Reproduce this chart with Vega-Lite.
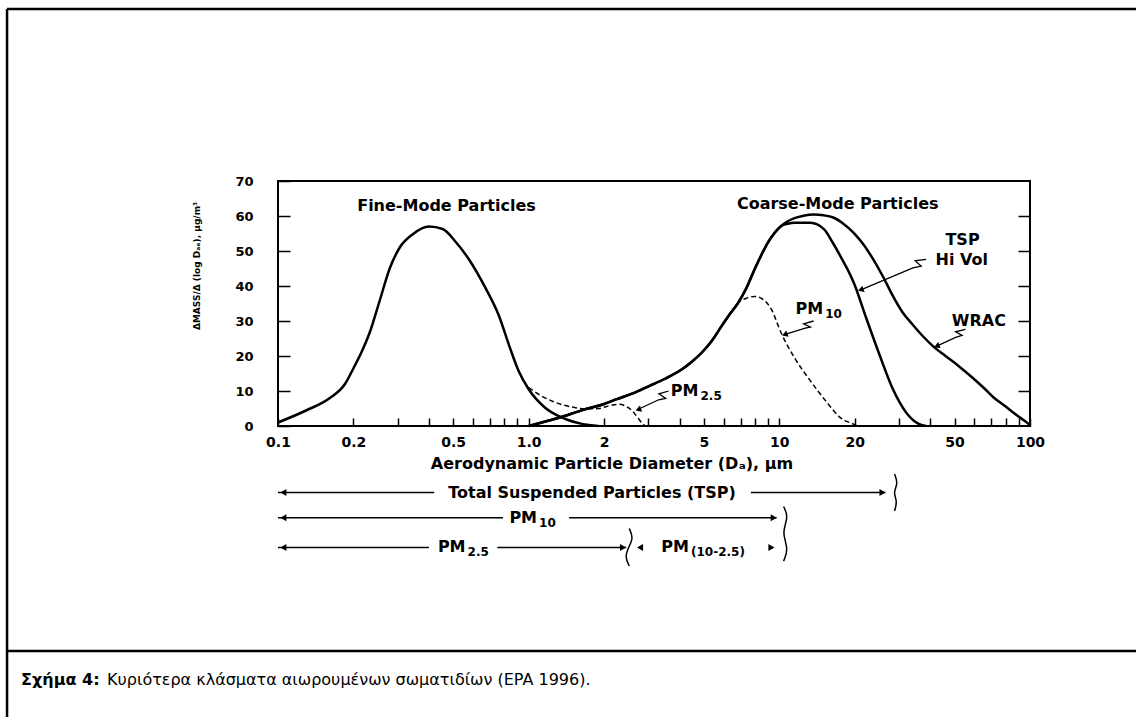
{
  "$schema": "https://vega.github.io/schema/vega-lite/v6.json",
  "width": 752,
  "height": 245,
  "autosize": {"type": "none"},
  "padding": {"left": 278, "top": 181, "right": 106, "bottom": 291},
  "background": "white",
  "config": {
    "view": {"stroke": "black", "strokeWidth": 2},
    "font": "DejaVu Sans",
    "axis": {"labelOverlap": false, "labelFlush": false}
  },
  "datasets": {
    "curves": [
      {"s": "fine", "x": 0.1, "y": 1}, {"s": "fine", "x": 0.13, "y": 4.5}, {"s": "fine", "x": 0.161, "y": 8}, {"s": "fine", "x": 0.185, "y": 12}, {"s": "fine", "x": 0.2, "y": 16.5}, {"s": "fine", "x": 0.215, "y": 21}, {"s": "fine", "x": 0.233, "y": 27}, {"s": "fine", "x": 0.255, "y": 36}, {"s": "fine", "x": 0.279, "y": 45}, {"s": "fine", "x": 0.306, "y": 51}, {"s": "fine", "x": 0.345, "y": 54.8}, {"s": "fine", "x": 0.4, "y": 57}, {"s": "fine", "x": 0.454, "y": 56.3}, {"s": "fine", "x": 0.513, "y": 52.5}, {"s": "fine", "x": 0.579, "y": 47.5}, {"s": "fine", "x": 0.674, "y": 39.3}, {"s": "fine", "x": 0.761, "y": 31.5}, {"s": "fine", "x": 0.834, "y": 23.2}, {"s": "fine", "x": 0.912, "y": 15.7}, {"s": "fine", "x": 1.0, "y": 10.5}, {"s": "fine", "x": 1.16, "y": 5.3}, {"s": "fine", "x": 1.4, "y": 2.0}, {"s": "fine", "x": 1.63, "y": 0.6}, {"s": "fine", "x": 1.9, "y": 0},
      {"s": "tsp", "x": 1.0, "y": 0}, {"s": "tsp", "x": 1.3, "y": 2.2}, {"s": "tsp", "x": 1.65, "y": 4.6}, {"s": "tsp", "x": 2.0, "y": 6.3}, {"s": "tsp", "x": 2.23, "y": 7.6}, {"s": "tsp", "x": 2.6, "y": 9.3}, {"s": "tsp", "x": 3.02, "y": 11.4}, {"s": "tsp", "x": 3.5, "y": 13.5}, {"s": "tsp", "x": 4.09, "y": 16.2}, {"s": "tsp", "x": 4.5, "y": 18.5}, {"s": "tsp", "x": 4.91, "y": 21}, {"s": "tsp", "x": 5.4, "y": 24.5}, {"s": "tsp", "x": 5.89, "y": 28.6}, {"s": "tsp", "x": 6.35, "y": 32}, {"s": "tsp", "x": 6.85, "y": 35.2}, {"s": "tsp", "x": 7.4, "y": 39.5}, {"s": "tsp", "x": 7.97, "y": 44.8}, {"s": "tsp", "x": 8.5, "y": 49}, {"s": "tsp", "x": 9.0, "y": 52.4}, {"s": "tsp", "x": 9.6, "y": 55.3}, {"s": "tsp", "x": 10.15, "y": 57.1},
      {"s": "tsp", "x": 10.8, "y": 57.8}, {"s": "tsp", "x": 11.5, "y": 58.1}, {"s": "tsp", "x": 13.3, "y": 58.1}, {"s": "tsp", "x": 15.1, "y": 56.2}, {"s": "tsp", "x": 16.3, "y": 52.5}, {"s": "tsp", "x": 17.5, "y": 48.6}, {"s": "tsp", "x": 19.8, "y": 41}, {"s": "tsp", "x": 22.3, "y": 30.5}, {"s": "tsp", "x": 25.2, "y": 20}, {"s": "tsp", "x": 28.4, "y": 10.5}, {"s": "tsp", "x": 32.1, "y": 3.8}, {"s": "tsp", "x": 36.2, "y": 0.5}, {"s": "tsp", "x": 38.5, "y": 0},
      {"s": "wrac", "x": 1.0, "y": 0}, {"s": "wrac", "x": 1.3, "y": 2.2}, {"s": "wrac", "x": 1.65, "y": 4.6}, {"s": "wrac", "x": 2.0, "y": 6.3}, {"s": "wrac", "x": 2.23, "y": 7.6}, {"s": "wrac", "x": 2.6, "y": 9.3}, {"s": "wrac", "x": 3.02, "y": 11.4}, {"s": "wrac", "x": 3.5, "y": 13.5}, {"s": "wrac", "x": 4.09, "y": 16.2}, {"s": "wrac", "x": 4.5, "y": 18.5}, {"s": "wrac", "x": 4.91, "y": 21}, {"s": "wrac", "x": 5.4, "y": 24.5}, {"s": "wrac", "x": 5.89, "y": 28.6}, {"s": "wrac", "x": 6.35, "y": 32}, {"s": "wrac", "x": 6.85, "y": 35.2}, {"s": "wrac", "x": 7.4, "y": 39.5}, {"s": "wrac", "x": 7.97, "y": 44.8}, {"s": "wrac", "x": 8.5, "y": 49}, {"s": "wrac", "x": 9.0, "y": 52.4}, {"s": "wrac", "x": 9.6, "y": 55.3}, {"s": "wrac", "x": 10.15, "y": 57.1},
      {"s": "wrac", "x": 10.8, "y": 58.5}, {"s": "wrac", "x": 11.5, "y": 59.4}, {"s": "wrac", "x": 12.5, "y": 60.1}, {"s": "wrac", "x": 13.7, "y": 60.4}, {"s": "wrac", "x": 15, "y": 60.2}, {"s": "wrac", "x": 16.5, "y": 59.5}, {"s": "wrac", "x": 18, "y": 57.8}, {"s": "wrac", "x": 19.8, "y": 55.2}, {"s": "wrac", "x": 21.7, "y": 51.8}, {"s": "wrac", "x": 23.7, "y": 47.6}, {"s": "wrac", "x": 26, "y": 42.5}, {"s": "wrac", "x": 28.4, "y": 37.1}, {"s": "wrac", "x": 31, "y": 32.5}, {"s": "wrac", "x": 34, "y": 29}, {"s": "wrac", "x": 37, "y": 26}, {"s": "wrac", "x": 40.9, "y": 22.9}, {"s": "wrac", "x": 46, "y": 20}, {"s": "wrac", "x": 52, "y": 17.1}, {"s": "wrac", "x": 59, "y": 13.8}, {"s": "wrac", "x": 66.3, "y": 10.5}, {"s": "wrac", "x": 72, "y": 8}, {"s": "wrac", "x": 79.5, "y": 5.7}, {"s": "wrac", "x": 87, "y": 3.5}, {"s": "wrac", "x": 95.4, "y": 1.4}, {"s": "wrac", "x": 100, "y": 0.3},
      {"s": "pm10", "x": 6.5, "y": 33}, {"s": "pm10", "x": 6.85, "y": 35.2}, {"s": "pm10", "x": 7.4, "y": 36.5}, {"s": "pm10", "x": 7.97, "y": 37}, {"s": "pm10", "x": 8.6, "y": 36.2}, {"s": "pm10", "x": 9.3, "y": 33.3}, {"s": "pm10", "x": 10.15, "y": 26.7}, {"s": "pm10", "x": 11.5, "y": 19.5}, {"s": "pm10", "x": 13.3, "y": 12.9}, {"s": "pm10", "x": 15.5, "y": 6.7}, {"s": "pm10", "x": 17.5, "y": 2.4}, {"s": "pm10", "x": 19.8, "y": 0.5}, {"s": "pm10", "x": 20.5, "y": 0},
      {"s": "pm25", "x": 1.0, "y": 11}, {"s": "pm25", "x": 1.1, "y": 9}, {"s": "pm25", "x": 1.25, "y": 7}, {"s": "pm25", "x": 1.45, "y": 5.6}, {"s": "pm25", "x": 1.7, "y": 4.9}, {"s": "pm25", "x": 1.9, "y": 5.0}, {"s": "pm25", "x": 2.1, "y": 5.8}, {"s": "pm25", "x": 2.3, "y": 6.2}, {"s": "pm25", "x": 2.45, "y": 5.6}, {"s": "pm25", "x": 2.6, "y": 4.2}, {"s": "pm25", "x": 2.75, "y": 2.0}, {"s": "pm25", "x": 2.85, "y": 0.6}, {"s": "pm25", "x": 2.92, "y": 0}
    ],
    "frame": [
      {"x": 0.0083, "x2": 300, "y": 119.14, "y2": 119.14},
      {"x": 0.0083, "x2": 0.0083, "y": 119.14, "y2": -90},
      {"x": 0.0083, "x2": 300, "y": -64.3, "y2": -64.3}
    ],
    "segs": [
      {"id": "r1a", "x": 0.1, "y": -19}, {"id": "r1a", "x": 0.42, "y": -19},
      {"id": "r1b", "x": 7.7, "y": -19}, {"id": "r1b", "x": 26.5, "y": -19},
      {"id": "r2a", "x": 0.1, "y": -26.2}, {"id": "r2a", "x": 0.79, "y": -26.2},
      {"id": "r2b", "x": 1.45, "y": -26.2}, {"id": "r2b", "x": 9.75, "y": -26.2},
      {"id": "r3a", "x": 0.1, "y": -34.7}, {"id": "r3a", "x": 0.4, "y": -34.7},
      {"id": "r3b", "x": 0.75, "y": -34.7}, {"id": "r3b", "x": 2.45, "y": -34.7}
    ],
    "braces": [
      {"id": "b1", "i": 0, "x": 28.8, "y": -13.7}, {"id": "b1", "i": 1, "x": 29.8, "y": -16.5}, {"id": "b1", "i": 2, "x": 28.4, "y": -19}, {"id": "b1", "i": 3, "x": 29.6, "y": -21.5}, {"id": "b1", "i": 4, "x": 28.8, "y": -24.3},
      {"id": "b2", "i": 0, "x": 10.4, "y": -23}, {"id": "b2", "i": 1, "x": 10.9, "y": -26}, {"id": "b2", "i": 2, "x": 10.2, "y": -30.5}, {"id": "b2", "i": 3, "x": 10.9, "y": -35}, {"id": "b2", "i": 4, "x": 10.4, "y": -38.6},
      {"id": "b3", "i": 0, "x": 2.52, "y": -29.3}, {"id": "b3", "i": 1, "x": 2.62, "y": -32}, {"id": "b3", "i": 2, "x": 2.5, "y": -34.7}, {"id": "b3", "i": 3, "x": 2.42, "y": -37.5}, {"id": "b3", "i": 4, "x": 2.52, "y": -40}
    ],
    "squiggles": [
      {"id": "a1", "i": 0, "x": 38.5, "y": 47.6}, {"id": "a1", "i": 1, "x": 34.8, "y": 47.2}, {"id": "a1", "i": 2, "x": 36.8, "y": 45.7}, {"id": "a1", "i": 3, "x": 34.1, "y": 45.2}, {"id": "a1", "i": 4, "x": 21.6, "y": 39.2},
      {"id": "a2", "i": 0, "x": 55.3, "y": 27.6}, {"id": "a2", "i": 1, "x": 50.5, "y": 26.9}, {"id": "a2", "i": 2, "x": 53.6, "y": 25.9}, {"id": "a2", "i": 3, "x": 50.5, "y": 25.3}, {"id": "a2", "i": 4, "x": 43.3, "y": 23.1},
      {"id": "a3", "i": 0, "x": 13.7, "y": 30}, {"id": "a3", "i": 1, "x": 12.5, "y": 29.2}, {"id": "a3", "i": 2, "x": 13.3, "y": 28.3}, {"id": "a3", "i": 3, "x": 12.6, "y": 27.9}, {"id": "a3", "i": 4, "x": 10.7, "y": 26.3},
      {"id": "a4", "i": 0, "x": 3.62, "y": 10}, {"id": "a4", "i": 1, "x": 3.31, "y": 9.2}, {"id": "a4", "i": 2, "x": 3.52, "y": 7.9}, {"id": "a4", "i": 3, "x": 3.3, "y": 7.5}, {"id": "a4", "i": 4, "x": 2.78, "y": 5}
    ],
    "heads": [
      {"x": 21.3, "y": 39}, {"x": 42.8, "y": 22.9}, {"x": 10.6, "y": 26.2}, {"x": 2.76, "y": 4.8}
    ],
    "leftHeads": [
      {"x": 0.105, "y": -19}, {"x": 0.105, "y": -26.2}, {"x": 0.105, "y": -34.7}, {"x": 2.78, "y": -34.7}
    ],
    "rightHeads": [
      {"x": 25.8, "y": -19}, {"x": 9.5, "y": -26.2}, {"x": 2.38, "y": -34.7}, {"x": 9.3, "y": -34.7}
    ],
    "notes": [
      {"t": "Fine-Mode Particles", "x": 0.47, "y": 63},
      {"t": "Coarse-Mode Particles", "x": 17.1, "y": 63.5},
      {"t": "TSP", "x": 53.8, "y": 53.2},
      {"t": "Hi Vol", "x": 53.4, "y": 47.4},
      {"t": "WRAC", "x": 62.5, "y": 30},
      {"t": "Total Suspended Particles (TSP)", "x": 1.79, "y": -19},
      {"t": "Aerodynamic Particle Diameter (Dₐ), µm", "x": 2.15, "y": -10.9}
    ],
    "pm": [
      {"main": "PM", "sub": "10", "x": 14.96, "y": 33.3},
      {"main": "PM", "sub": "2.5", "x": 4.76, "y": 10},
      {"main": "PM", "sub": "10", "x": 1.08, "y": -26.2},
      {"main": "PM", "sub": "2.5", "x": 0.56, "y": -34.7},
      {"main": "PM", "sub": "(10-2.5)", "x": 4.36, "y": -34.7}
    ],
    "ytitle": [{"t": "ΔMASS/Δ (log Dₐₑ), µg/m³", "x": 0.0475, "y": 45.7}],
    "capBold": [{"t": "Σχήμα 4:", "x": 0.00944, "y": -72.6}],
    "capText": [{"t": "Κυριότερα κλάσματα αιωρουμένων σωματιδίων (EPA 1996).", "x": 0.0208, "y": -72.6}],
    "yticks": [{"y": 0}, {"y": 10}, {"y": 20}, {"y": 30}, {"y": 40}, {"y": 50}, {"y": 60}, {"y": 70}]
  },
  "layer": [
    {
      "layer": [
        {
          "data": {"name": "curves"},
          "transform": [{"filter": "datum.s == 'fine' || datum.s == 'tsp' || datum.s == 'wrac'"}],
          "mark": {"type": "line", "color": "black", "strokeWidth": 2.5, "interpolate": "monotone"},
          "encoding": {
            "x": {"field": "x", "type": "quantitative",
              "scale": {"type": "log", "domain": [0.1, 100], "nice": false},
              "axis": {
                "values": [0.1, 0.2, 0.3, 0.4, 0.5, 0.6, 0.7, 0.8, 0.9, 1, 2, 3, 4, 5, 6, 7, 8, 9, 10, 20, 30, 40, 50, 60, 70, 80, 90, 100],
                "labelExpr": "indexof([0.1,0.2,0.5,1,2,5,10,20,50,100], datum.value) >= 0 ? (datum.value == 1 ? '1.0' : format(datum.value, '~g')) : ''",
                "tickSize": -8, "tickColor": "black", "tickWidth": 1.5,
                "domain": false, "grid": false, "title": null,
                "labelFont": "DejaVu Sans", "labelFontWeight": "bold", "labelFontSize": 14, "labelColor": "black",
                "labelPadding": 17, "labelFlush": false, "labelOverlap": false
              }
            },
            "y": {"field": "y", "type": "quantitative",
              "scale": {"domain": [0, 70], "nice": false, "zero": false},
              "axis": null
            },
            "detail": {"field": "s"}
          }
        },
        {
          "data": {"name": "curves"},
          "transform": [{"filter": "datum.s == 'pm10' || datum.s == 'pm25'"}],
          "mark": {"type": "line", "color": "black", "strokeWidth": 1.5, "strokeDash": [5, 3], "interpolate": "monotone"},
          "encoding": {
            "x": {"field": "x", "type": "quantitative"},
            "y": {"field": "y", "type": "quantitative", "axis": null},
            "detail": {"field": "s"}
          }
        },
        {
          "data": {"name": "frame"},
          "mark": {"type": "rule", "color": "black", "strokeWidth": 2.5},
          "encoding": {
            "x": {"field": "x", "type": "quantitative"},
            "x2": {"field": "x2"},
            "y": {"field": "y", "type": "quantitative", "axis": null},
            "y2": {"field": "y2"}
          }
        },
        {
          "data": {"name": "segs"},
          "mark": {"type": "line", "color": "black", "strokeWidth": 1.5},
          "encoding": {
            "x": {"field": "x", "type": "quantitative"},
            "y": {"field": "y", "type": "quantitative", "axis": null},
            "detail": {"field": "id"}
          }
        },
        {
          "data": {"name": "braces"},
          "mark": {"type": "line", "color": "black", "strokeWidth": 1.5, "interpolate": "basis"},
          "encoding": {
            "x": {"field": "x", "type": "quantitative"},
            "y": {"field": "y", "type": "quantitative", "axis": null},
            "detail": {"field": "id"},
            "order": {"field": "i"}
          }
        },
        {
          "data": {"name": "squiggles"},
          "mark": {"type": "line", "color": "black", "strokeWidth": 1.3},
          "encoding": {
            "x": {"field": "x", "type": "quantitative"},
            "y": {"field": "y", "type": "quantitative", "axis": null},
            "detail": {"field": "id"},
            "order": {"field": "i"}
          }
        },
        {
          "data": {"name": "heads"},
          "mark": {"type": "point", "shape": "triangle", "angle": 250, "filled": true, "color": "black", "size": 45, "opacity": 1},
          "encoding": {
            "x": {"field": "x", "type": "quantitative"},
            "y": {"field": "y", "type": "quantitative", "axis": null}
          }
        },
        {
          "data": {"name": "leftHeads"},
          "mark": {"type": "point", "shape": "triangle-left", "filled": true, "color": "black", "size": 50, "opacity": 1},
          "encoding": {
            "x": {"field": "x", "type": "quantitative"},
            "y": {"field": "y", "type": "quantitative", "axis": null}
          }
        },
        {
          "data": {"name": "rightHeads"},
          "mark": {"type": "point", "shape": "triangle-right", "filled": true, "color": "black", "size": 50, "opacity": 1},
          "encoding": {
            "x": {"field": "x", "type": "quantitative"},
            "y": {"field": "y", "type": "quantitative", "axis": null}
          }
        },
        {
          "data": {"name": "notes"},
          "mark": {"type": "text", "font": "DejaVu Sans", "fontWeight": "bold", "fontSize": 16, "color": "black", "align": "center", "baseline": "middle"},
          "encoding": {
            "x": {"field": "x", "type": "quantitative"},
            "y": {"field": "y", "type": "quantitative", "axis": null},
            "text": {"field": "t"}
          }
        },
        {
          "data": {"name": "pm"},
          "mark": {"type": "text", "font": "DejaVu Sans", "fontWeight": "bold", "fontSize": 16, "color": "black", "align": "right", "baseline": "middle"},
          "encoding": {
            "x": {"field": "x", "type": "quantitative"},
            "y": {"field": "y", "type": "quantitative", "axis": null},
            "text": {"field": "main"}
          }
        },
        {
          "data": {"name": "pm"},
          "mark": {"type": "text", "font": "DejaVu Sans", "fontWeight": "bold", "fontSize": 12, "color": "black", "align": "left", "baseline": "middle", "dx": 2, "dy": 5},
          "encoding": {
            "x": {"field": "x", "type": "quantitative"},
            "y": {"field": "y", "type": "quantitative", "axis": null},
            "text": {"field": "sub"}
          }
        },
        {
          "data": {"name": "ytitle"},
          "mark": {"type": "text", "font": "DejaVu Sans", "fontWeight": "bold", "fontSize": 9, "color": "black", "align": "center", "baseline": "middle", "angle": 270},
          "encoding": {
            "x": {"field": "x", "type": "quantitative"},
            "y": {"field": "y", "type": "quantitative", "axis": null},
            "text": {"field": "t"}
          }
        },
        {
          "data": {"name": "capBold"},
          "mark": {"type": "text", "font": "DejaVu Sans", "fontWeight": "bold", "fontSize": 16, "color": "black", "align": "left", "baseline": "middle"},
          "encoding": {
            "x": {"field": "x", "type": "quantitative"},
            "y": {"field": "y", "type": "quantitative", "axis": null},
            "text": {"field": "t"}
          }
        },
        {
          "data": {"name": "capText"},
          "mark": {"type": "text", "font": "DejaVu Sans", "fontSize": 16, "color": "black", "align": "left", "baseline": "middle"},
          "encoding": {
            "x": {"field": "x", "type": "quantitative"},
            "y": {"field": "y", "type": "quantitative", "axis": null},
            "text": {"field": "t"}
          }
        }
      ]
    },
    {
      "data": {"name": "yticks"},
      "mark": {"type": "rule", "opacity": 0},
      "encoding": {
        "y": {"field": "y", "type": "quantitative",
          "scale": {"domain": [0, 70], "nice": false, "zero": false},
          "axis": {
            "orient": "left",
            "values": [0, 10, 20, 30, 40, 50, 60, 70],
            "tickSize": -12, "tickColor": "black", "tickWidth": 1.5,
            "domain": false, "grid": false, "title": null,
            "labelFont": "DejaVu Sans", "labelFontWeight": "bold", "labelFontSize": 13, "labelColor": "black",
            "labelPadding": 37, "labelFlush": false, "labelOverlap": false, "labelBound": false
          }
        }
      }
    },
    {
      "data": {"name": "yticks"},
      "mark": {"type": "rule", "opacity": 0},
      "encoding": {
        "y": {"field": "y", "type": "quantitative",
          "scale": {"domain": [0, 70], "nice": false, "zero": false},
          "axis": {
            "orient": "right",
            "values": [10, 20, 30, 40, 50, 60],
            "labels": false, "tickSize": -12, "tickColor": "black", "tickWidth": 1.5,
            "domain": false, "grid": false, "title": null
          }
        }
      }
    }
  ],
  "resolve": {"axis": {"y": "independent"}}
}
